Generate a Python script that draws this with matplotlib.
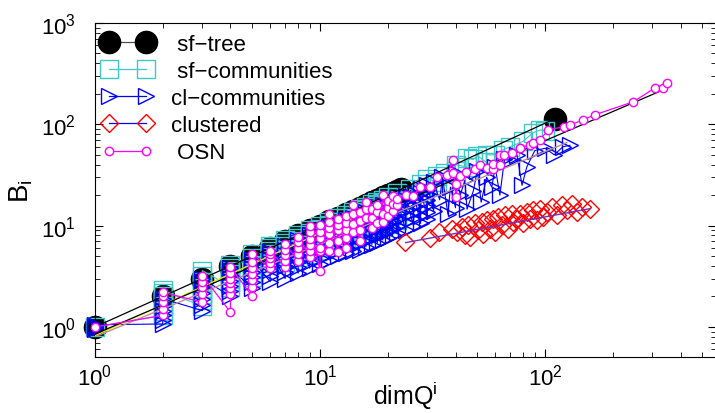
import matplotlib.pyplot as plt
from matplotlib.lines import Line2D

plt.rcParams["font.family"] = "Liberation Sans"
plt.rcParams["mathtext.fontset"] = "custom"
plt.rcParams["mathtext.rm"] = "Liberation Sans"
plt.rcParams["mathtext.it"] = "Liberation Sans:italic"
plt.rcParams["mathtext.default"] = "regular"

# sf-tree
tree_x = [1, 2, 3, 4, 5, 6, 7, 8, 9, 10, 11, 12, 13, 14, 15, 16, 17, 18, 19, 20, 21, 22, 23, 111]
tree_y = [1, 2, 3, 4, 5, 6, 7, 8, 9, 10, 11, 12, 13, 14, 15, 16, 17, 18, 19, 20, 21, 22, 23, 114]

# sf-communities: stacks per dimQ, then sparse tail
sfc_dims = [1, 2, 3, 4, 5, 6, 7, 8, 9, 10, 11, 12, 13, 14, 15, 16, 17, 18, 19, 20, 22]
sfc_stacks = [
    [1.0],
    [1.3, 1.45, 1.6, 1.8, 2.0, 2.15, 2.3],
    [1.6, 1.85, 2.1, 2.45, 2.8, 3.2, 3.6],
    [2.5, 2.75, 3.0, 3.3, 3.55, 3.85, 4.1],
    [3.1, 3.4, 3.7, 4.05, 4.4, 4.8, 5.2],
    [4.3, 4.6, 4.95, 5.3, 5.65, 6.0, 6.3],
    [4.4, 4.8, 5.3, 5.8, 6.3, 6.8, 7.2],
    [4.9, 5.4, 5.9, 6.5, 7.1, 7.6, 8.1],
    [5.3, 5.9, 6.5, 7.1, 7.8, 8.4, 9.0],
    [5.8, 6.4, 7.1, 7.8, 8.5, 9.2, 9.9],
    [6.2, 6.9, 7.7, 8.5, 9.3, 10.1, 10.9],
    [6.7, 7.5, 8.3, 9.2, 10.1, 10.9, 11.8],
    [7.1, 8.0, 8.9, 9.9, 10.8, 11.8, 12.7],
    [7.6, 8.5, 9.5, 10.5, 11.6, 12.6, 13.6],
    [8.0, 9.0, 10.1, 11.2, 12.3, 13.4, 14.5],
    [8.5, 9.6, 10.7, 11.9, 13.1, 14.2, 15.4],
    [9.0, 10.1, 11.3, 12.6, 13.8, 15.1, 16.3],
    [9.4, 10.6, 11.9, 13.2, 14.6, 15.9, 17.2],
    [9.9, 11.2, 12.5, 13.9, 15.3, 16.7, 18.1],
    [10.3, 11.7, 13.1, 14.6, 16.1, 17.6, 19.0],
    [11.3, 12.8, 14.4, 16.0, 17.6, 19.2, 20.8],
]
sfc_tail_x = [25, 25, 28, 28, 30, 30, 33, 33, 36, 40, 40, 45, 45, 48, 50, 55, 55, 60, 65, 70, 80, 88, 95, 100]
sfc_tail_y = [18, 23, 21, 26, 24, 29, 27, 31, 33, 35, 40, 38, 46, 45, 49, 42, 50, 50, 56, 60, 68, 82, 88, 86]

# cl-communities
clc_dims = [1, 2, 3, 4, 5, 6, 7, 8, 9, 10, 11, 12, 13, 14, 15, 16, 17, 18, 19, 20, 21, 22, 24, 26, 28, 30]
clc_stacks = [
    [0.95, 1.0, 1.05],
    [1.07, 1.18, 1.3, 1.45, 1.6, 1.75, 1.9],
    [1.45, 1.65, 1.9, 2.15, 2.4, 2.7, 3.0],
    [2.0, 2.25, 2.55, 2.85, 3.15, 3.5, 3.8],
    [2.4, 2.75, 3.1, 3.45, 3.85, 4.2, 4.6],
    [2.8, 3.2, 3.65, 4.1, 4.55, 5.0, 5.5],
    [3.0, 3.5, 4.0, 4.55, 5.1, 5.7, 6.3],
    [3.4, 3.9, 4.5, 5.1, 5.8, 6.5, 7.2],
    [3.8, 4.4, 5.0, 5.7, 6.4, 7.2, 8.0],
    [4.2, 4.8, 5.5, 6.3, 7.1, 7.9, 8.8],
    [4.6, 5.3, 6.1, 6.9, 7.8, 8.7, 9.7],
    [5.0, 5.8, 6.6, 7.5, 8.5, 9.5, 10.5],
    [5.4, 6.2, 7.1, 8.1, 9.1, 10.2, 11.3],
    [5.6, 6.5, 7.5, 8.6, 9.7, 10.8, 12.0],
    [5.8, 6.8, 7.9, 9.1, 10.3, 11.5, 12.8],
    [6.2, 7.3, 8.5, 9.7, 11.0, 12.3, 13.6],
    [6.5, 7.7, 9.0, 10.3, 11.6, 13.0, 14.4],
    [6.8, 8.0, 9.4, 10.8, 12.2, 13.7, 15.2],
    [7.2, 8.5, 9.9, 11.4, 12.9, 14.4, 16.0],
    [7.5, 8.9, 10.4, 12.0, 13.6, 15.2, 16.8],
    [8.0, 9.5, 11.1, 12.7, 14.3, 15.9, 17.5],
    [8.4, 10.0, 11.6, 13.3, 15.0, 16.6, 18.3],
    [9.0, 10.8, 12.6, 14.4, 16.2, 17.9, 19.5],
    [10.0, 11.8, 13.7, 15.6, 17.5, 19.3, 21.0],
    [10.5, 12.5, 14.6, 16.7, 18.8, 21.0, 23.0],
    [11.5, 13.6, 15.8, 18.0, 20.3, 22.6, 25.0],
]
clc_tail_x = [32, 32, 34, 35, 37, 38, 40, 40, 42, 44, 45, 48, 50, 52, 55, 58, 60, 63, 66, 70, 75, 79, 83, 90, 100, 110, 120, 129]
clc_tail_y = [14, 27, 18, 30, 13, 24, 15, 33, 20, 28, 14.5, 22, 35, 17, 30, 24, 38, 20, 45, 44, 50, 25, 38, 55, 58, 50, 60, 62]

# clustered
clu_x = [23.9, 30.8, 33.9, 38.5, 40.5, 42.6, 44.1, 45.6, 46.4, 48.9, 50.5, 52.3, 53.2, 55.0,
         57.0, 58.9, 59.9, 62.0, 64.2, 66.4, 68.7, 71.1, 72.3, 74.8, 77.4, 80.1, 82.9, 85.8,
         88.8, 91.9, 95.0, 98.4, 101.7, 107.1, 112.7, 118.6, 124.8, 131.4, 138.3, 145.6, 158.5]
clu_y = [6.9, 7.55, 8.66, 9.34, 8.66, 9.7, 8.0, 10.1, 7.7, 10.5, 9.0, 10.9, 8.3, 11.3,
         9.34, 11.7, 8.66, 12.2, 10.1, 12.7, 9.34, 13.1, 10.9, 11.7, 13.1, 10.5, 13.7, 11.7,
         14.2, 11.3, 14.7, 12.2, 13.7, 15.3, 12.7, 15.9, 14.2, 16.5, 13.7, 15.3, 14.7]

# OSN
osn_dims = [1, 2, 3, 4, 5, 6, 7, 8, 9, 10, 11, 12, 13, 14, 15, 16, 17, 18, 19, 20, 21, 22]
osn_stacks = [
    [1.0],
    [1.3, 1.5, 1.75, 2.0, 2.2],
    [1.75, 2.1, 2.5, 2.8, 3.2],
    [1.4, 2.1, 2.4, 2.7, 3.0, 3.4, 3.9],
    [2.0, 2.5, 2.9, 3.3, 3.8, 4.4, 5.2],
    [3.8, 4.3, 4.8, 5.2, 5.6],
    [3.9, 4.5, 5.1, 5.8, 6.6],
    [4.5, 5.2, 6.0, 6.9, 7.8],
    [4.9, 5.6, 6.4, 7.4, 8.6, 10.0],
    [3.6, 5.6, 6.0, 7.5, 8.7, 10.1],
    [5.6, 6.8, 8.3, 9.5, 10.9, 13.1],
    [5.5, 7.0, 9.0, 10.2, 11.7],
    [6.0, 7.5, 9.0, 10.5, 12.5],
    [8.7, 10.4, 13.0, 15.9],
    [7.0, 9.0, 11.0, 13.5],
    [12.0, 14.7, 17.1],
    [9.5, 12.0, 14.5],
    [10.5, 13.5, 15.9],
    [10.9, 13.1, 20.0],
    [12.5, 15.0, 17.5],
    [14.0, 16.5, 19.4],
    [16.0, 18.5],
]
osn_tail_x = [24.2, 25.9, 27.8, 30.8, 33, 36.6, 39, 39, 40, 40, 42, 44.6, 48.8, 51.5, 55, 58.8, 58.8,
              63, 63, 66, 71, 77.6, 77.6, 85.8, 88.5, 95, 103, 122, 129, 147, 166, 247, 309, 334, 350]
osn_tail_y = [20, 19.4, 24.3, 24.3, 30.5, 31.4, 44, 33, 26, 19, 31, 33.8, 36.6, 39.5, 37, 36.6, 41,
              39.5, 49.7, 49.7, 51.6, 57.8, 59, 62.5, 65, 70, 88, 95, 98.5, 110, 124, 167, 230, 230, 254]

# power-law fit lines (end points)
fit_osn_x, fit_osn_y = [1, 350], [0.85, 228]
fit_sfc_x, fit_sfc_y = [1, 20], [0.82, 17]
fit_clc_x, fit_clc_y = [1, 125], [0.8, 66]
fit_clu_x, fit_clu_y = [24, 158], [6.8, 14.7]

labels = [" sf\u2212tree", " sf\u2212communities", "cl\u2212communities", "clustered", " OSN"]


def flatten(dims, stacks, tail_x, tail_y):
    xs, ys = [], []
    for d, vals in zip(dims, stacks):
        xs += [d] * len(vals)
        ys += vals
    return xs + tail_x, ys + tail_y


sfc_x, sfc_y = flatten(sfc_dims, sfc_stacks, sfc_tail_x, sfc_tail_y)
clc_x, clc_y = flatten(clc_dims, clc_stacks, clc_tail_x, clc_tail_y)
osn_x, osn_y = flatten(osn_dims, osn_stacks, osn_tail_x, osn_tail_y)

cyan = "#40C8C8"

fig = plt.figure(figsize=(7.15, 4.14), dpi=100)
ax = fig.add_axes([95 / 715, 56 / 414, 621 / 715, 334 / 414])
ax.set_xscale("log")
ax.set_yscale("log")

ax.plot(tree_x, tree_y, "o", color="black", ms=16, clip_on=False, zorder=1)
ax.plot(sfc_x, sfc_y, "s-", color=cyan, mfc="none", ms=13, lw=0.8, mew=1, clip_on=False, zorder=2)
ax.plot(clc_x, clc_y, ">-", color="blue", mfc="none", ms=12, lw=0.8, mew=1, clip_on=False, zorder=3)
ax.plot(clu_x, clu_y, "D", color="red", mfc="none", ms=9, mew=1, zorder=3)
ax.plot(tree_x, tree_y, "-", color="black", lw=0.9, zorder=4)
ax.plot(fit_sfc_x, fit_sfc_y, "-", color="#E8E800", lw=1, zorder=4)
ax.plot(fit_clc_x, fit_clc_y, "-", color="#C09090", lw=1, zorder=4)
ax.plot(fit_clu_x, fit_clu_y, "-", color="#7030C0", lw=1, zorder=4)
ax.plot(fit_osn_x, fit_osn_y, "-", color="black", lw=0.9, zorder=4)
ax.plot(osn_x, osn_y, "o-", color="magenta", mfc="white", ms=6, lw=0.9, mew=1, clip_on=False, zorder=5)

ax.set_xlim(1, 575)
ax.set_ylim(0.505, 1000)

handles = [
    Line2D([], [], color="#505050", lw=0.9, marker="o", ms=16, mfc="black", mec="black"),
    Line2D([], [], color=cyan, lw=0.9, marker="s", ms=13, mfc="none", mec=cyan),
    Line2D([], [], color="blue", lw=0.9, marker=">", ms=12, mfc="none", mec="blue"),
    Line2D([], [], color="blue", lw=0.9, marker="D", ms=9, mfc="none", mec="red"),
    Line2D([], [], color="magenta", lw=0.9, marker="o", ms=6, mfc="white", mec="magenta"),
]
ax.legend(handles, labels, loc="upper left", bbox_to_anchor=(-0.008, 1.005), frameon=False,
          fontsize=16, numpoints=2, handlelength=2.25, handletextpad=0.85, labelspacing=0.28,
          borderaxespad=0.15)

ax.tick_params(which="both", direction="in", top=True, right=True, labelsize=16)
ax.tick_params(which="major", length=6)
ax.tick_params(which="minor", length=3.5)
ax.tick_params(axis="y", pad=14)
ax.tick_params(axis="x", pad=5)
ax.set_xlabel(r"dimQ$^{i}$", fontsize=18, labelpad=-8)
ax.set_ylabel(r"B$_{i}$", fontsize=20, labelpad=4)

fig.savefig("out.png", dpi=100)
